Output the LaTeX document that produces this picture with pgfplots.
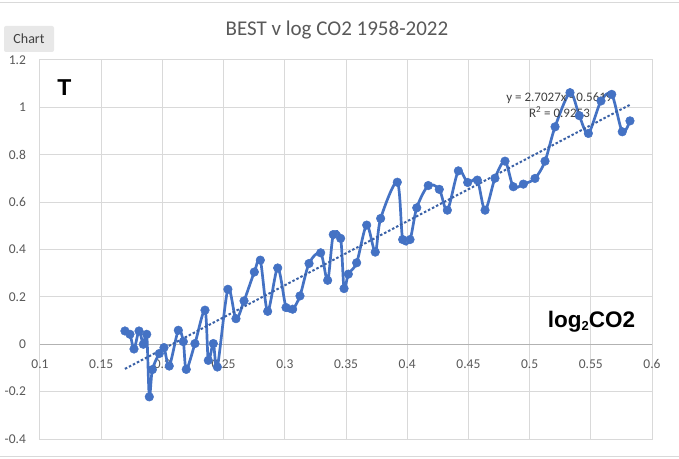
\documentclass[border=0pt]{standalone}
\usepackage{pgfplots}
\pgfplotsset{compat=1.18}
\usepackage{fontspec}
\setmainfont{Carlito}
\newfontfamily\arialfont{Liberation Sans}
\definecolor{xlblue}{HTML}{4472C4}
\definecolor{gridgrey}{HTML}{D9D9D9}
\definecolor{txtgrey}{HTML}{595959}

\begin{document}
\begin{tikzpicture}[x=1pt,y=1pt]
\path[use as bounding box] (0,0) rectangle (679,458);
\fill[white] (0,0) rectangle (679,458);
% spreadsheet cell borders around the chart
\draw[gridgrey, line width=1pt] (0,455) -- (679,455);
\draw[gridgrey, line width=1pt] (0,2) -- (679,2);
% Excel "Chart" button
\fill[black!9, rounded corners=2pt] (4,406) rectangle (54,432);
\node[text=black!75, font=\fontsize{14}{16}\selectfont] at (29,419) {Chart};
% title
\node[text=txtgrey, font=\fontsize{21}{25}\selectfont] at (337,428) {BEST v log CO2 1958-2022};

\begin{axis}[
    at={(40pt,19pt)}, anchor=south west,
    scale only axis, width=612pt, height=379pt,
    xmin=0.1, xmax=0.6, ymin=-0.4, ymax=1.2,
    xtick={0.1,0.15,0.2,0.25,0.3,0.35,0.4,0.45,0.5,0.55,0.6},
    xticklabels={0.1,0.15,0.2,0.25,0.3,0.35,0.4,0.45,0.5,0.55,0.6},
    ytick={-0.4,-0.2,0,0.2,0.4,0.6,0.8,1,1.2},
    yticklabels={-0.4,-0.2,0,0.2,0.4,0.6,0.8,1,1.2},
    grid=major, grid style={gridgrey, line width=1pt},
    axis line style={gridgrey, line width=1pt},
    tick style={draw=none},
    extra y ticks={0}, extra y tick labels={},
    extra y tick style={grid style={black!30, line width=1.2pt}},
    ticklabel style={font=\fontsize{13.5}{16}\selectfont, text=txtgrey},
    /pgf/number format/assume math mode=true,
    xticklabel style={anchor=center, yshift=75pt},
    yticklabel style={anchor=east, xshift=-10.5pt},
    clip=false,
]
\addplot[xlblue, line width=2.7pt, smooth, tension=0.5,
    mark=*, mark size=4.3pt,
    mark options={solid, fill=xlblue, draw=xlblue, line width=0.5pt}]
coordinates {
(0.1694,0.056) (0.1735,0.042) (0.1768,-0.020) (0.1809,0.056)
(0.1844,0.000) (0.1872,0.042) (0.1893,-0.222) (0.1918,-0.107)
(0.1975,-0.039) (0.2013,-0.014) (0.2056,-0.092) (0.2130,0.059)
(0.2171,0.011) (0.2195,-0.106) (0.2266,0.003) (0.2348,0.144)
(0.2375,-0.068) (0.2416,0.003) (0.2449,-0.096) (0.2535,0.232)
(0.2601,0.108) (0.2667,0.183) (0.2751,0.305) (0.2800,0.355)
(0.2860,0.139) (0.2942,0.322) (0.3010,0.155) (0.3064,0.148)
(0.3124,0.204) (0.3198,0.341) (0.3293,0.386) (0.3350,0.270)
(0.3396,0.463) (0.3456,0.447) (0.3484,0.235) (0.3519,0.296)
(0.3587,0.344) (0.3669,0.503) (0.3739,0.389) (0.3783,0.531)
(0.3919,0.684) (0.3963,0.442) (0.4023,0.442) (0.4078,0.576)
(0.4172,0.670) (0.4262,0.654) (0.4328,0.566) (0.4418,0.732)
(0.4494,0.683) (0.4573,0.693) (0.4636,0.566) (0.4717,0.701)
(0.4799,0.773) (0.4867,0.665) (0.4949,0.676) (0.5044,0.700)
(0.5126,0.773) (0.5208,0.918) (0.5330,1.062) (0.5406,0.965)
(0.5480,0.890) (0.5583,1.027) (0.5671,1.055) (0.5757,0.897)
(0.5820,0.943)
};
% linear trendline (endpoints)
\addplot[xlblue!85!black, line width=2pt, dash pattern=on 2.5pt off 2pt]
coordinates {(0.1694,-0.104) (0.5820,1.011)};

\node[text=black!75, align=center, font=\fontsize{13}{16}\selectfont]
  at (axis cs:0.5244,1.010) {y = 2.7027x - 0.5619\\R\textsuperscript{2} = 0.9253};
\node[font=\arialfont\bfseries\fontsize{23}{26}\selectfont]
  at (axis cs:0.120,1.084) {T};
\node[font=\arialfont\bfseries\fontsize{22.5}{26}\selectfont]
  at (axis cs:0.5505,0.093) {log\raisebox{-0.25ex}{\fontsize{13}{15}\selectfont 2}CO2};
\end{axis}
\end{tikzpicture}
\end{document}
